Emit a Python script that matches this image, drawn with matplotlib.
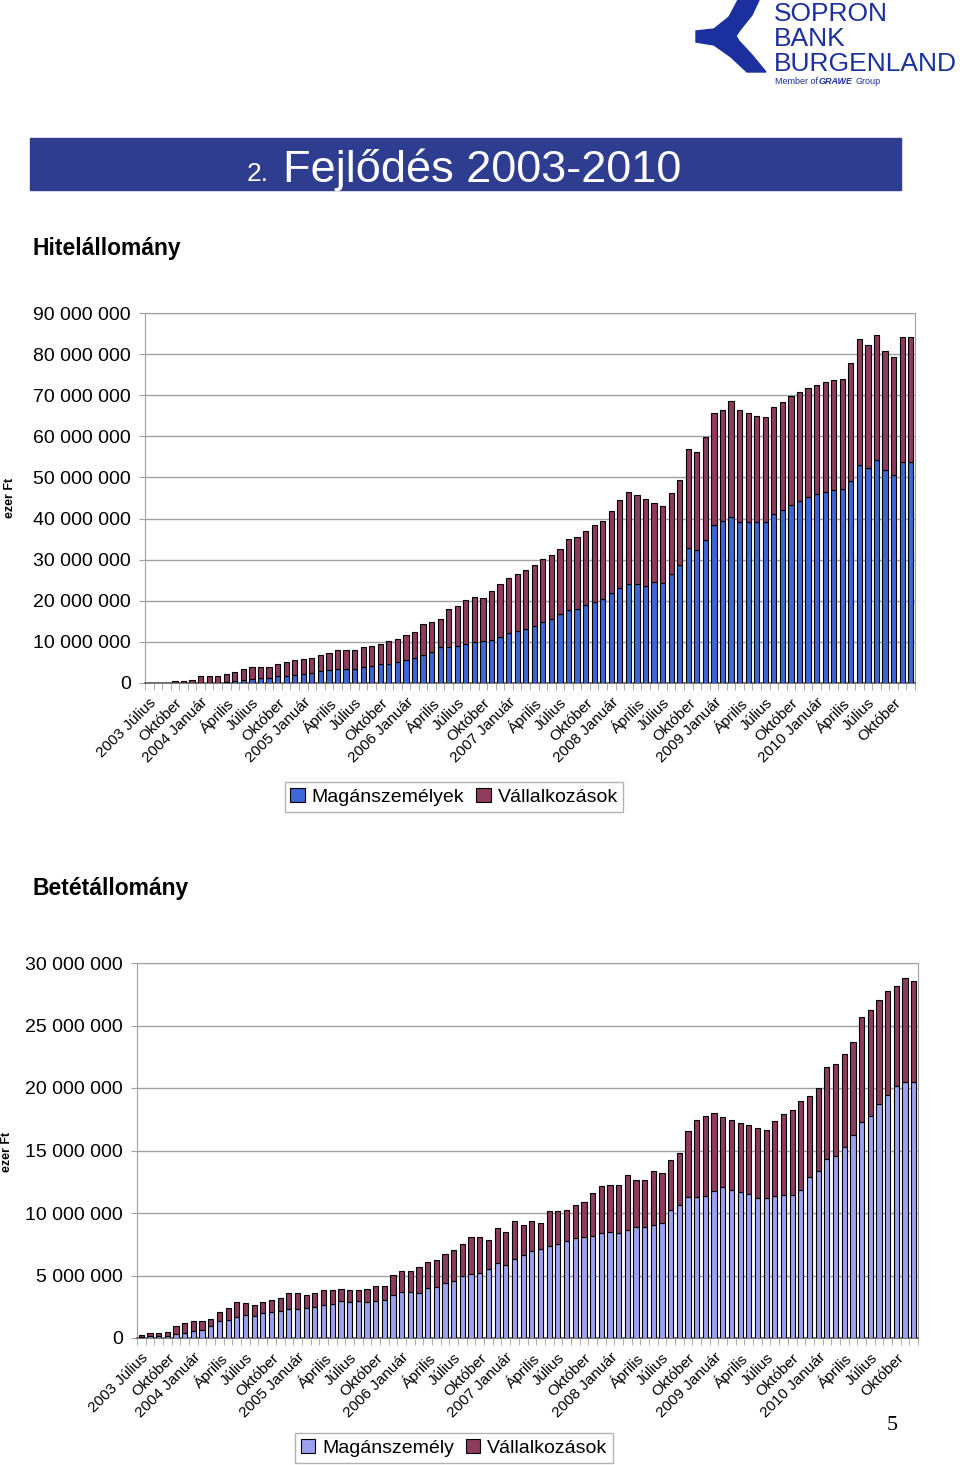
import matplotlib
matplotlib.use('Agg')
from matplotlib import pyplot as plt
from matplotlib.patches import Rectangle, Polygon
from matplotlib.ticker import FixedLocator, FuncFormatter
from matplotlib.transforms import ScaledTranslation
import numpy as np

# havi adatok 2003 Július - 2010 December, millió ezer Ft
honapok = ['Január', 'Április', 'Július', 'Október']
hitel_magan = [0.05, 0.05, 0.05, 0.05, 0.05, 0.05, 0.1, 0.1, 0.1, 0.3,
               0.5, 0.7, 1.0, 1.3, 1.3, 1.6, 1.8, 2.0, 2.3, 2.5,
               2.8, 3.2, 3.4, 3.5, 3.5, 3.9, 4.2, 4.5, 4.7, 5.1,
               5.6, 6.1, 6.8, 7.6, 8.7, 8.7, 8.9, 9.6, 10.0, 10.2,
               10.5, 11.2, 12.1, 12.6, 13.2, 13.8, 14.8, 15.5, 16.7, 17.7,
               18.1, 18.9, 19.8, 20.5, 22.0, 23.1, 24.0, 24.0, 23.6, 24.6,
               24.4, 26.6, 28.6, 32.9, 32.4, 34.8, 38.5, 39.3, 40.5, 39.2,
               39.2, 39.2, 39.2, 41.0, 42.2, 43.2, 44.2, 45.2, 46.0, 46.4,
               46.9, 47.3, 49.1, 53.1, 52.2, 54.3, 51.9, 50.7, 53.8, 53.8]
hitel_ossz = [0.1, 0.05, 0.05, 0.4, 0.4, 0.7, 1.6, 1.6, 1.6, 2.3,
              2.6, 3.5, 3.9, 3.9, 4.0, 4.7, 5.1, 5.6, 5.9, 6.2,
              6.9, 7.4, 8.1, 8.1, 8.1, 8.7, 9.0, 9.6, 10.2, 10.6,
              11.6, 12.5, 14.3, 14.8, 15.6, 18.1, 18.7, 20.2, 20.9, 20.6,
              22.3, 24.1, 25.6, 26.6, 27.6, 28.8, 30.2, 31.2, 32.5, 35.0,
              35.6, 36.9, 38.5, 39.4, 41.8, 44.4, 46.5, 45.7, 44.7, 43.7,
              43.1, 46.2, 49.3, 56.9, 56.2, 59.8, 65.7, 66.5, 68.7, 66.5,
              65.6, 65.0, 64.6, 67.1, 68.3, 69.7, 70.9, 71.7, 72.5, 73.1,
              73.7, 74.0, 77.8, 83.7, 82.3, 84.7, 80.7, 79.4, 84.1, 84.1]

betet_magan = [0.1, 0.16, 0.16, 0.19, 0.32, 0.37, 0.59, 0.67, 0.93, 1.33,
               1.44, 1.65, 1.84, 1.73, 1.97, 2.05, 2.19, 2.35, 2.35, 2.43,
               2.51, 2.64, 2.72, 2.93, 2.85, 2.93, 2.91, 2.93, 3.04, 3.44,
               3.65, 3.65, 3.6, 3.97, 4.05, 4.37, 4.59, 4.96, 5.12, 5.17,
               5.49, 5.97, 5.87, 6.35, 6.67, 6.99, 7.09, 7.36, 7.52, 7.73,
               8.0, 8.11, 8.19, 8.37, 8.48, 8.37, 8.64, 8.85, 8.85, 9.01,
               9.23, 10.24, 10.64, 11.25, 11.25, 11.36, 11.79, 12.05, 11.84, 11.65,
               11.52, 11.17, 11.17, 11.39, 11.44, 11.44, 11.87, 12.85, 13.39, 14.32,
               14.53, 15.25, 16.27, 17.25, 17.79, 18.72, 19.47, 20.16, 20.48, 20.48]
betet_ossz = [0.27, 0.37, 0.37, 0.45, 1.0, 1.17, 1.39, 1.36, 1.55, 2.05,
              2.37, 2.85, 2.77, 2.64, 2.85, 3.04, 3.17, 3.57, 3.57, 3.47,
              3.57, 3.87, 3.87, 3.95, 3.84, 3.84, 3.92, 4.16, 4.13, 5.04,
              5.33, 5.33, 5.65, 6.05, 6.24, 6.72, 7.04, 7.52, 8.05, 8.05,
              7.84, 8.77, 8.45, 9.39, 9.07, 9.33, 9.17, 10.19, 10.19, 10.27,
              10.67, 10.85, 11.57, 12.16, 12.24, 12.24, 13.04, 12.64, 12.64, 13.36,
              13.17, 14.24, 14.77, 16.59, 17.44, 17.73, 17.97, 17.65, 17.47, 17.17,
              17.04, 16.8, 16.67, 17.36, 17.89, 18.24, 18.96, 19.39, 19.97, 21.65,
              21.92, 22.72, 23.65, 25.65, 26.24, 27.04, 27.73, 28.16, 28.77, 28.59]

# címkék: minden harmadik hónap, 2003 Július-tól
cimkek = []
ev, h = 2003, 2
for i in range(30):
    nev = honapok[h]
    cimkek.append(f'{ev} {nev}' if nev == 'Január' or i == 0 else nev)
    h += 1
    if h == 4:
        h = 0
        ev += 1

W, H = 960, 1465
fx = lambda x: x / W
fy = lambda y: 1 - y / H

plt.rcParams['font.family'] = ['Liberation Sans', 'DejaVu Sans']
fig = plt.figure(figsize=(W / 100, H / 100), dpi=100)

# logo
logo_kek = '#1b2f9e'
bracket = [(738, 0), (729, 17), (714, 29), (696, 31), (696, 42), (714, 45),
           (731, 57), (747, 72), (766, 72), (752, 55), (739, 41), (736, 36),
           (740, 30), (752, 15), (759, 0)]
fig.patches.append(Polygon([(fx(a), fy(b)) for a, b in bracket], closed=True,
                           transform=fig.transFigure, color=logo_kek))
for szo, y in [('SOPRON', 21), ('BANK', 46), ('BURGENLAND', 71)]:
    fig.text(fx(774), fy(y), szo, color=logo_kek, fontsize=19, va='baseline')
fig.text(fx(775), fy(82), 'Member of', color=logo_kek, fontsize=6.5, va='center')
fig.text(fx(819), fy(82), 'GRAWE', color=logo_kek, fontsize=6.5, va='center',
         weight='bold', style='italic')
fig.text(fx(856), fy(82), 'Group', color=logo_kek, fontsize=6.5, va='center')

# cím sáv
fig.patches.append(Rectangle((fx(30), fy(190)), fx(871), 52 / H,
                             transform=fig.transFigure, color='#2e3d8f'))
fig.text(fx(269), fy(181), '2.', color='white', fontsize=19, ha='right', va='baseline')
fig.text(fx(283), fy(182), 'Fejlődés 2003-2010', color='white', fontsize=32.5,
         ha='left', va='baseline')

fig.text(fx(33), fy(248), 'Hitelállomány', fontsize=16.5, weight='bold', va='center')
fig.text(fx(33), fy(888), 'Betétállomány', fontsize=16.5, weight='bold', va='center')
fig.text(fx(892), fy(1425), '5', fontsize=16, va='center', ha='center', family='Liberation Serif')


def rajzol(ax, magan, ossz, kek, ymax, lepes, nev_magan, leg_y):
    x = np.arange(len(magan))
    vallalat = [o - m for o, m in zip(ossz, magan)]
    b1 = ax.bar(x, magan, width=0.6, color=kek, edgecolor='black', linewidth=0.8,
                label=nev_magan, zorder=3)
    b2 = ax.bar(x, vallalat, bottom=magan, width=0.6, color='#8e3b5e', edgecolor='black',
                linewidth=0.8, label='Vállalkozások', zorder=3)
    ax.set_xlim(-0.5, len(x) - 0.5)
    ax.set_ylim(0, ymax)
    ax.set_yticks(np.arange(0, ymax + 0.1, lepes))
    ax.yaxis.set_major_formatter(FuncFormatter(lambda v, p: f'{int(round(v * 1e6)):,}'.replace(',', ' ')))
    ax.grid(axis='y', color='#a0a0a0', linewidth=1, zorder=0)
    ax.set_xticks(x[::3])
    ax.set_xticklabels(cimkek, rotation=45, ha='right', rotation_mode='anchor', fontsize=11)
    eltol = ScaledTranslation(-7 / 100, 0, fig.dpi_scale_trans)
    for t in ax.get_xticklabels():
        t.set_transform(t.get_transform() + eltol)
    ax.xaxis.set_minor_locator(FixedLocator(np.arange(-0.5, len(x), 1)))
    ax.tick_params(axis='x', which='major', length=0, pad=9)
    ax.tick_params(axis='x', which='minor', length=5, color='#a0a0a0')
    ax.tick_params(axis='y', length=4, color='#a0a0a0', labelsize=14, pad=6)
    for s in ['left', 'top', 'right']:
        ax.spines[s].set_color('#a0a0a0')
    ax.spines['bottom'].set_color('#606060')
    ax.spines['bottom'].set_linewidth(1.2)
    fig.legend(handles=[b1, b2], loc='center', bbox_to_anchor=(fx(454), fy(leg_y)),
               ncol=2, fontsize=14, frameon=True, fancybox=False, edgecolor='#a0a0a0',
               handlelength=0.75, handleheight=0.75, handletextpad=0.35, columnspacing=0.6,
               borderpad=0.3)


ax1 = fig.add_axes([fx(145), fy(683), 770 / W, 370 / H])
rajzol(ax1, hitel_magan, hitel_ossz, '#3d66d6', 90, 10, 'Magánszemélyek', 797)
fig.text(fx(10), fy(498), 'ezer Ft', rotation=90, fontsize=9, weight='bold', ha='center', va='center')

ax2 = fig.add_axes([fx(137), fy(1338), 781 / W, 375 / H])
rajzol(ax2, betet_magan, betet_ossz, '#9ba0f0', 30, 5, 'Magánszemély', 1448)
fig.text(fx(7), fy(1152), 'ezer Ft', rotation=90, fontsize=9, weight='bold', ha='center', va='center')

plt.savefig('out.png', dpi=100)
plt.close()
